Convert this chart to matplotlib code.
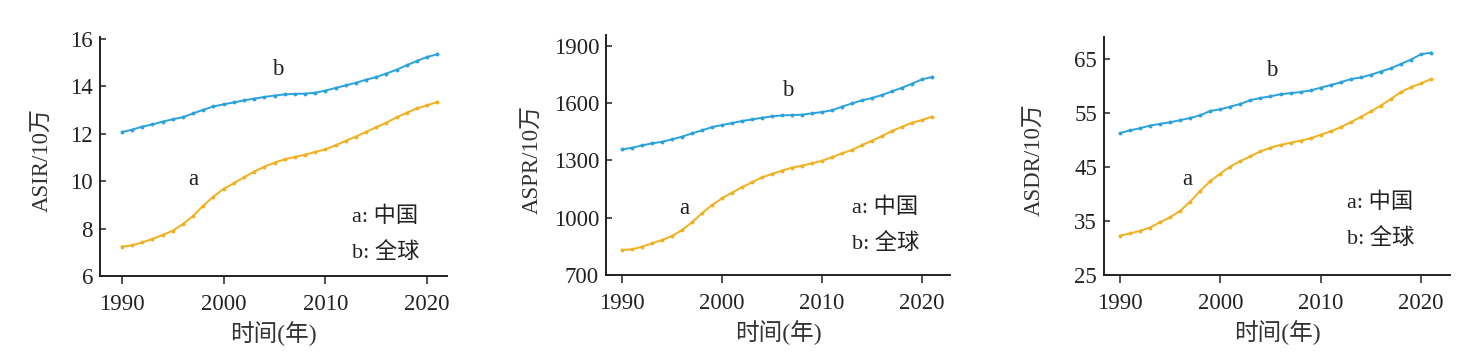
import numpy as np
import matplotlib
matplotlib.use('Agg')
import matplotlib.pyplot as plt

years = list(range(1990, 2022))

# ASIR (per 100k)
asir_china = [7.24, 7.29, 7.42, 7.56, 7.73, 7.91, 8.19, 8.53, 8.97, 9.35, 9.68, 9.91,
              10.16, 10.40, 10.61, 10.78, 10.92, 11.02, 11.12, 11.23, 11.34, 11.51,
              11.70, 11.88, 12.08, 12.27, 12.47, 12.69, 12.89, 13.07, 13.20, 13.34]
asir_global = [12.07, 12.17, 12.30, 12.39, 12.51, 12.61, 12.70, 12.86, 13.01, 13.15, 13.24,
               13.32, 13.41, 13.48, 13.55, 13.61, 13.66, 13.68, 13.69, 13.73, 13.82, 13.93,
               14.04, 14.15, 14.28, 14.39, 14.54, 14.70, 14.89, 15.07, 15.24, 15.35]

# ASPR (per 100k)
aspr_china = [831, 834, 848, 866, 883, 904, 935, 976, 1023, 1066, 1101, 1131, 1159, 1185,
              1211, 1229, 1246, 1262, 1272, 1284, 1298, 1316, 1337, 1354, 1380, 1403,
              1427, 1454, 1476, 1497, 1511, 1529]
aspr_global = [1357, 1366, 1378, 1389, 1397, 1410, 1424, 1441, 1457, 1474, 1485, 1495,
               1506, 1514, 1523, 1530, 1535, 1537, 1539, 1546, 1553, 1562, 1581, 1598,
               1614, 1626, 1642, 1661, 1680, 1701, 1724, 1736]

# ASDR (per 100k)
asdr_china = [32.3, 32.7, 33.2, 33.8, 34.8, 35.7, 36.9, 38.6, 40.6, 42.4, 43.8, 45.1,
              46.1, 47.0, 47.9, 48.6, 49.1, 49.5, 49.9, 50.3, 51.0, 51.6, 52.4, 53.3,
              54.3, 55.3, 56.4, 57.6, 58.9, 59.8, 60.5, 61.3]
asdr_global = [51.3, 51.8, 52.2, 52.7, 53.0, 53.3, 53.7, 54.1, 54.6, 55.4, 55.7, 56.2,
               56.7, 57.4, 57.8, 58.1, 58.5, 58.7, 58.9, 59.2, 59.7, 60.2, 60.7, 61.3,
               61.6, 62.1, 62.7, 63.3, 64.1, 64.9, 65.9, 66.2]

ylabels = ['ASIR/10万', 'ASPR/10万', 'ASDR/10万']
yticks = [[6, 8, 10, 12, 14, 16], [700, 1000, 1300, 1600, 1900], [25, 35, 45, 55, 65]]
xticks = [1990, 2000, 2010, 2020]

blue = '#2aa2de'
orange = '#f2b01e'
fam = ['Liberation Serif', 'Noto Sans CJK SC']
plt.rcParams['font.family'] = fam

dpi = 100
fig = plt.figure(figsize=(1471 / dpi, 364 / dpi), dpi=dpi)

# axes boxes in pixels: left, right, bottom, top
boxes = [(100, 447, 276, 37), (606, 950, 275, 35), (1104, 1450, 275, 37)]
xlims = [(1987.85, 2021.95), (1988.4, 2022.8), (1988.4, 2022.9)]
ylims = [(6, 16.08), (700, 1956), (25, 69.1)]
series = [(asir_china, asir_global), (aspr_china, aspr_global), (asdr_china, asdr_global)]
lab_pos = [((0.513, 0.862), (0.268, 0.402), 0.726, (0.247, 0.10)),
           ((0.529, 0.767), (0.227, 0.279), 0.715, (0.279, 0.133)),
           ((0.486, 0.861), (0.24, 0.40), 0.702, (0.303, 0.155))]
ylab_x = [43, 533, 1035]

W, H = 1471, 364
for i in range(3):
    l, r, b, t = boxes[i]
    ax = fig.add_axes([l / W, 1 - b / H, (r - l) / W, (b - t) / H])
    china, glob = series[i]
    ax.plot(years, glob, color=blue, lw=1.4, marker='o', ms=2.8, mew=0)
    ax.plot(years, china, color=orange, lw=1.4, marker='o', ms=2.8, mew=0)
    ax.set_xlim(*xlims[i])
    ax.set_ylim(*ylims[i])
    ax.set_xticks(xticks)
    ax.set_yticks(yticks[i])
    for s in ['top', 'right']:
        ax.spines[s].set_visible(False)
    for s in ['left', 'bottom']:
        ax.spines[s].set_linewidth(1.4)
        ax.spines[s].set_color('#222222')
    ax.tick_params(axis='y', direction='in', length=4, width=1.1, labelsize=16.5, pad=5,
                   colors='#222222')
    ax.tick_params(axis='x', direction='out', length=6, width=1.1, labelsize=16.5, pad=7,
                   colors='#222222')
    ax.set_xlabel('时间(年)', fontsize=17, color='#333333', labelpad=4)
    fig.text(ylab_x[i] / W, 1 - 160 / H, ylabels[i], rotation=90, fontsize=16.5,
             color='#333333', ha='center', va='center')
    bpos, apos, lx, ly = lab_pos[i]
    ax.text(bpos[0], bpos[1], 'b', transform=ax.transAxes, fontsize=16.5,
            ha='center', va='center', color='#222222')
    ax.text(apos[0], apos[1], 'a', transform=ax.transAxes, fontsize=16.5,
            ha='center', va='center', color='#222222')
    ax.text(lx, ly[0], 'a: 中国', transform=ax.transAxes, fontsize=16,
            ha='left', va='center', color='#222222')
    ax.text(lx, ly[1], 'b: 全球', transform=ax.transAxes, fontsize=16,
            ha='left', va='center', color='#222222')

fig.savefig('out.png', dpi=dpi)
